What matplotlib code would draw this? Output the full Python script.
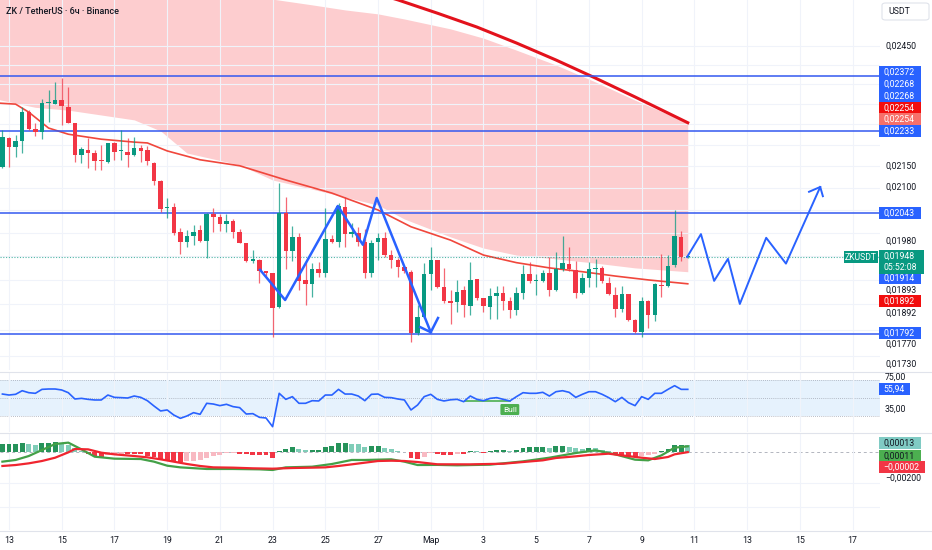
import numpy as np
import matplotlib
matplotlib.use("Agg")
import matplotlib.pyplot as plt
from matplotlib.patches import Rectangle, FancyBboxPatch
from matplotlib.lines import Line2D
from matplotlib.ticker import NullLocator

plt.rcParams['font.family'] = ['Roboto', 'DejaVu Sans']

W, H = 932, 550

# 6h candles, index 0 = 13 Feb 00:00 (first candle is 12 Feb 18:00)
opens = [0.02148, 0.02217, 0.02195, 0.02210, 0.02280, 0.02238, 0.02231, 0.02303, 0.02300, 0.02310,
         0.02292, 0.02254, 0.02176, 0.02188, 0.02181, 0.02165, 0.02160, 0.02205, 0.02186, 0.02183,
         0.02176, 0.02193, 0.02188, 0.02158, 0.02116, 0.02054, 0.02057, 0.02002, 0.01980, 0.01993,
         0.02006, 0.01982, 0.02041, 0.02034, 0.02019, 0.02026, 0.02002, 0.01978, 0.01940, 0.01942,
         0.01919, 0.01915, 0.01845, 0.02043, 0.01961, 0.01991, 0.01900, 0.01892, 0.01923, 0.01915,
         0.01986, 0.01980, 0.02057, 0.01997, 0.01999, 0.01980, 0.01915, 0.01980, 0.01989, 0.01952,
         0.01942, 0.01927, 0.01917, 0.01793, 0.01825, 0.01913, 0.01942, 0.01885, 0.01857, 0.01855,
         0.01879, 0.01847, 0.01902, 0.01863, 0.01845, 0.01867, 0.01873, 0.01857, 0.01839, 0.01873,
         0.01913, 0.01898, 0.01898, 0.01915, 0.01879, 0.01923, 0.01934, 0.01921, 0.01873, 0.01904,
         0.01923, 0.01925, 0.01894, 0.01869, 0.01841, 0.01871, 0.01819, 0.01795, 0.01857, 0.01829,
         0.01890, 0.01887, 0.01932, 0.01991, 0.01947]
highs = [0.02236, 0.02219, 0.02224, 0.02292, 0.02285, 0.02254, 0.02313, 0.02336, 0.02356, 0.02366,
         0.02343, 0.02254, 0.02195, 0.02217, 0.02188, 0.02200, 0.02205, 0.02207, 0.02236, 0.02217,
         0.02219, 0.02200, 0.02198, 0.02160, 0.02118, 0.02077, 0.02066, 0.02010, 0.02006, 0.02017,
         0.02017, 0.02043, 0.02054, 0.02041, 0.02041, 0.02030, 0.02008, 0.01978, 0.01963, 0.01944,
         0.01919, 0.01915, 0.02111, 0.02079, 0.02015, 0.01999, 0.01938, 0.01936, 0.01938, 0.02054,
         0.01995, 0.02066, 0.02079, 0.02021, 0.02013, 0.02008, 0.01984, 0.01999, 0.02002, 0.01963,
         0.01946, 0.01927, 0.01921, 0.01849, 0.01936, 0.01969, 0.01942, 0.01925, 0.01879, 0.01900,
         0.01887, 0.01938, 0.01902, 0.01863, 0.01883, 0.01887, 0.01887, 0.01865, 0.01885, 0.01932,
         0.01938, 0.01913, 0.01921, 0.01948, 0.01959, 0.01993, 0.01969, 0.01940, 0.01915, 0.01938,
         0.01944, 0.01929, 0.01906, 0.01885, 0.01887, 0.01871, 0.01821, 0.01865, 0.01859, 0.01894,
         0.01955, 0.01953, 0.02050, 0.02004, 0.01950]
lows = [0.02146, 0.02148, 0.02172, 0.02181, 0.02236, 0.02222, 0.02214, 0.02256, 0.02300, 0.02249,
        0.02254, 0.02160, 0.02158, 0.02146, 0.02141, 0.02141, 0.02158, 0.02165, 0.02165, 0.02148,
        0.02174, 0.02160, 0.02153, 0.02107, 0.02046, 0.02032, 0.01995, 0.01955, 0.01969, 0.01973,
        0.01980, 0.01946, 0.02002, 0.02004, 0.02002, 0.01989, 0.01978, 0.01938, 0.01936, 0.01894,
        0.01908, 0.01786, 0.01843, 0.01923, 0.01940, 0.01879, 0.01849, 0.01865, 0.01906, 0.01906,
        0.01978, 0.01969, 0.01969, 0.01991, 0.01971, 0.01904, 0.01906, 0.01942, 0.01948, 0.01925,
        0.01906, 0.01915, 0.01776, 0.01789, 0.01823, 0.01879, 0.01883, 0.01853, 0.01811, 0.01835,
        0.01825, 0.01829, 0.01859, 0.01835, 0.01821, 0.01821, 0.01839, 0.01823, 0.01829, 0.01861,
        0.01894, 0.01869, 0.01896, 0.01867, 0.01877, 0.01919, 0.01919, 0.01863, 0.01871, 0.01885,
        0.01885, 0.01894, 0.01869, 0.01825, 0.01835, 0.01817, 0.01793, 0.01786, 0.01803, 0.01817,
        0.01865, 0.01885, 0.01927, 0.01940, 0.01946]
closes = [0.02219, 0.02195, 0.02210, 0.02280, 0.02238, 0.02231, 0.02303, 0.02305, 0.02310, 0.02295,
          0.02254, 0.02176, 0.02190, 0.02181, 0.02163, 0.02163, 0.02205, 0.02183, 0.02188, 0.02176,
          0.02193, 0.02186, 0.02163, 0.02116, 0.02052, 0.02057, 0.02000, 0.01980, 0.01993, 0.02002,
          0.01982, 0.02041, 0.02034, 0.02019, 0.02026, 0.02002, 0.01978, 0.01940, 0.01944, 0.01919,
          0.01915, 0.01843, 0.02043, 0.01961, 0.01991, 0.01898, 0.01892, 0.01923, 0.01915, 0.01986,
          0.01980, 0.02059, 0.01997, 0.02002, 0.01980, 0.01915, 0.01978, 0.01989, 0.01952, 0.01942,
          0.01927, 0.01919, 0.01793, 0.01825, 0.01913, 0.01942, 0.01885, 0.01857, 0.01853, 0.01875,
          0.01849, 0.01900, 0.01863, 0.01847, 0.01867, 0.01873, 0.01857, 0.01839, 0.01873, 0.01913,
          0.01898, 0.01900, 0.01915, 0.01879, 0.01923, 0.01936, 0.01923, 0.01873, 0.01904, 0.01923,
          0.01925, 0.01898, 0.01871, 0.01841, 0.01871, 0.01819, 0.01795, 0.01857, 0.01829, 0.01892,
          0.01887, 0.01929, 0.01993, 0.01948, 0.01948]

# cloud band and moving averages, sampled at candle indices
band_idx = [-2, 4, 9, 14, 19, 23, 27, 35, 40, 46, 51, 56, 60, 67, 72, 77, 83, 89, 95, 103]
band_top = [0.02705, 0.02690, 0.02675, 0.02661, 0.02644, 0.02629, 0.02618, 0.02595, 0.02578, 0.02562,
            0.02548, 0.02537, 0.02523, 0.02496, 0.02471, 0.02439, 0.02400, 0.02356, 0.02310, 0.02254]
band_low = [0.02313, 0.02292, 0.02285, 0.02273, 0.02261, 0.02234, 0.02181, 0.02153, 0.02118, 0.02097,
            0.02079, 0.02061, 0.02030, 0.01991, 0.01967, 0.01952, 0.01944, 0.01935, 0.01925, 0.01917]

slow_idx = [44, 59, 65, 71, 77, 83, 89, 95, 103]
slow_ma = [0.02661, 0.02576, 0.02539, 0.02501, 0.02458, 0.02413, 0.02366, 0.02318, 0.02254]

fast_idx = [-2, 1, 3, 6, 9, 14, 19, 21, 24, 29, 35, 42, 49, 56, 61, 67, 72, 77, 82, 87, 92, 97, 103]
fast_ma = [0.02303, 0.02300, 0.02280, 0.02241, 0.02226, 0.02214, 0.02207, 0.02205, 0.02186, 0.02165,
           0.02151, 0.02118, 0.02088, 0.02050, 0.02013, 0.01984, 0.01952, 0.01936, 0.01925, 0.01917,
           0.01908, 0.01900, 0.01892]

levels = [0.02372, 0.02233, 0.02043, 0.01792]

# hand-drawn waves
wave1_idx = [38.1, 41.9, 49.9, 53.7, 55.8, 64.0]
wave1_px = [0.01921, 0.01859, 0.02059, 0.01974, 0.02077, 0.01795]
head1_idx = [62.4, 64.0, 65.1]
head1_px = [0.01805, 0.01795, 0.01823]
wave2_idx = [102.9, 105.0, 107.0, 109.1, 110.9, 114.9, 117.9, 123.1]
wave2_px = [0.01948, 0.01997, 0.01898, 0.01944, 0.01851, 0.01989, 0.01934, 0.02102]
head2_idx = [121.4, 123.1, 123.5]
head2_px = [0.02091, 0.02102, 0.02081]

rsi = [54.4, 53.3, 54.1, 58.1, 55.9, 55.2, 59.6, 60.0, 60.0, 58.9,
       55.9, 48.9, 49.6, 48.5, 47.8, 47.8, 53.3, 50.7, 50.4, 50.0,
       52.2, 50.7, 47.0, 41.1, 35.6, 36.7, 31.1, 27.4, 30.0, 33.7,
       31.9, 44.1, 43.3, 41.5, 43.0, 40.4, 39.3, 32.2, 32.6, 28.5,
       27.8, 18.1, 55.2, 48.5, 51.5, 44.1, 44.1, 47.0, 46.7, 53.3,
       53.3, 59.6, 54.4, 54.4, 52.2, 47.0, 54.1, 54.4, 50.7, 50.4,
       48.9, 47.8, 36.7, 42.2, 51.5, 54.1, 48.5, 46.7, 48.0, 48.5,
       45.9, 52.2, 48.5, 47.0, 49.6, 50.4, 48.5, 46.7, 51.5, 55.9,
       55.2, 55.2, 56.3, 52.2, 57.0, 58.1, 56.3, 50.7, 54.1, 57.0,
       57.0, 54.1, 50.4, 45.9, 50.7, 44.8, 41.5, 51.5, 48.5, 55.2,
       55.2, 59.6, 63.7, 59.6, 59.6]
bull_idx = [69.2, 76.0]
bull_rsi = [47.0, 47.0]

hist = [0.000133, 0.000133, 0.000133, 0.000156, 0.000133, 0.000111, 0.000145, 0.000156, 0.000161, 0.000156,
        0.000117, 0.000061, 0.000022, -0.000039, -0.000067, -0.000078, -0.000044, -0.000033, -0.000028, -0.000033,
        -0.000039, -0.000039, -0.000061, -0.000089, -0.000122, -0.000145, -0.000161, -0.000161, -0.000150, -0.000145,
        -0.000133, -0.000095, -0.000067, -0.000050, -0.000022, -0.000011, -0.000033, -0.000039, -0.000044, -0.000056,
        -0.000056, -0.000100, 0.000022, 0.000044, 0.000078, 0.000044, 0.000028, 0.000033, 0.000039, 0.000078,
        0.000106, 0.000145, 0.000145, 0.000133, 0.000128, 0.000089, 0.000095, 0.000095, 0.000072, 0.000044,
        0.000022, 0.000006, -0.000106, -0.000117, -0.000083, -0.000017, -0.000033, -0.000044, -0.000044, -0.000028,
        -0.000039, 0.000017, 0.000011, -0.000011, 0.000017, 0.000028, 0.000028, 0.000017, 0.000039, 0.000072,
        0.000078, 0.000083, 0.000089, 0.000072, 0.000095, 0.000100, 0.000083, 0.000061, 0.000056, 0.000067,
        0.000061, 0.000039, 0.000017, -0.000044, -0.000056, -0.000067, -0.000083, -0.000067, -0.000050, -0.000028,
        0.000011, 0.000056, 0.000111, 0.000122, 0.000117]

macd_idx = [-1, 1, 3, 5, 7, 9, 11, 13, 16, 20, 22, 24, 26, 30, 34, 38, 40, 42, 46, 49,
            52, 54, 58, 60, 62, 65, 68, 73, 78, 82, 86, 89, 92, 95, 97, 99, 101, 103]
macd_line = [-0.000161, -0.000133, -0.000067, 0.000033, 0.000133, 0.000156, 0.000044, -0.000078, -0.000111, -0.000117,
             -0.000161, -0.000228, -0.000256, -0.000283, -0.000283, -0.000289, -0.000300, -0.000256, -0.000245, -0.000200,
             -0.000133, -0.000133, -0.000122, -0.000161, -0.000217, -0.000215, -0.000222, -0.000211, -0.000156, -0.000095,
             -0.000017, 0.000028, -0.000039, -0.000128, -0.000139, -0.000056, 0.000072, 0.000095]
signal_idx = [-1, 1, 3, 5, 7, 9, 10, 12, 14, 16, 19, 21, 23, 25, 27, 29, 31, 34, 37, 40,
              43, 46, 48, 50, 52, 54, 56, 58, 60, 62, 65, 70, 75, 78, 81, 83, 86, 88, 91, 93,
              96, 98, 100, 101, 103]
signal_line = [-0.000233, -0.000217, -0.000189, -0.000150, -0.000095, -0.000006, 0.000050, 0.000044, -0.000011, -0.000039,
               -0.000067, -0.000089, -0.000122, -0.000161, -0.000200, -0.000233, -0.000256, -0.000261, -0.000272, -0.000278,
               -0.000267, -0.000261, -0.000256, -0.000233, -0.000206, -0.000178, -0.000150, -0.000145, -0.000150, -0.000167,
               -0.000205, -0.000206, -0.000195, -0.000167, -0.000139, -0.000100, -0.000072, -0.000050, -0.000028, -0.000056,
               -0.000095, -0.000117, -0.000083, -0.000039, -0.000002]

date_ticks = list(range(0, 129, 8))
date_labels = ['13', '15', '17', '19', '21', '23', '25', '27', 'Мар',
               '3', '5', '7', '9', '11', '13', '15', '17']

UP, DOWN = '#089981', '#f23645'
BLUE = '#2962ff'
GRID = '#f0f3fa'
TXT = '#131722'


def fx(x):
    return x / W


def fy(y):
    return 1 - y / H


def pane(top, bottom):
    return [0, fy(bottom), fx(880), (bottom - top) / H]


fig = plt.figure(figsize=(W / 100, H / 100), dpi=100)
ax = fig.add_axes(pane(0, 370))
ax_rsi = fig.add_axes(pane(372, 432), sharex=ax)
ax_macd = fig.add_axes(pane(433, 530), sharex=ax)

n = np.arange(-1, len(opens) - 1)
o = np.array(opens); c = np.array(closes)
hi = np.array(highs); lo = np.array(lows)

# --- main pane ---
ax.set_yscale('log')
ax.set_xlim(-1.366, 132.17)
ax.set_ylim(0.017228, 0.025756)
ax.fill_between(band_idx, band_low, band_top, color='#fdcdcf', lw=0, zorder=1)
ax.plot(slow_idx, slow_ma, color='#e3121c', lw=2.2, zorder=2)
ax.plot(fast_idx, fast_ma, color='#f0473c', lw=1.2, zorder=2)
for lv in levels:
    ax.axhline(lv, color='#3358f0', lw=1.1, zorder=2)
ax.axhline(closes[-1], color=UP, lw=0.8, ls=(0, (1, 1.5)), alpha=0.7, zorder=2)

up = c >= o
cols = np.where(up, UP, DOWN)
ax.vlines(n, lo, hi, colors=cols, lw=0.9, alpha=0.75, zorder=3)
body_lo = np.minimum(o, c)
body_h = np.maximum(np.abs(c - o), 0.000025)
ax.bar(n, body_h, bottom=body_lo, width=0.68, color=cols, lw=0, zorder=4)

ax.plot(wave1_idx, wave1_px, color=BLUE, lw=1.8, zorder=5)
ax.plot(head1_idx, head1_px, color=BLUE, lw=1.8, zorder=5)
ax.plot(wave2_idx, wave2_px, color=BLUE, lw=1.4, zorder=5)
ax.plot(head2_idx, head2_px, color=BLUE, lw=1.4, zorder=5)

ax.yaxis.set_minor_locator(NullLocator())
ax.set_yticks([0.0245, 0.024, 0.0235, 0.023, 0.0225, 0.022, 0.0215, 0.021, 0.0205,
               0.02, 0.0195, 0.019, 0.0185, 0.018, 0.0175])
ax.set_xticks(date_ticks)
ax.grid(True, color=GRID, lw=0.8, zorder=0)

# --- RSI pane ---
ax_rsi.set_ylim(12.2, 78.9)
ax_rsi.axhspan(30, 70, color='#e6f2fd', lw=0, zorder=0)
for lvl in (70, 50, 30):
    ax_rsi.axhline(lvl, color='#a3a9b5', lw=0.6, ls=(0, (1, 1.5)), zorder=1)
ax_rsi.plot(n, rsi, color=BLUE, lw=1.2, zorder=3)
ax_rsi.plot(bull_idx, bull_rsi, color='#4caf50', lw=1.2, zorder=2)
ax_rsi.text(bull_idx[1], 37.2, 'Bull', color='white', fontsize=6, ha='center', va='center',
            bbox=dict(boxstyle='round,pad=0.3,rounding_size=0.15', fc='#4caf50', ec='none'), zorder=4)
ax_rsi.set_yticks([])
ax_rsi.grid(True, axis='x', color=GRID, lw=0.8, zorder=0)

# --- MACD pane ---
px_per_unit = 60000.0
ax_macd.set_ylim(-(530 - 452) / px_per_unit, (452 - 433) / px_per_unit)
h = np.array(hist)
prev = np.concatenate([[h[0]], h[:-1]])
hcols = np.where(h >= 0,
                 np.where(h >= prev, '#26935a', '#80cdb8'),
                 np.where(h <= prev, '#f23645', '#f8b9c2'))
ax_macd.bar(n, h, width=0.75, color=hcols, lw=0, zorder=2)
ax_macd.axhline(0, color='#b2b5be', lw=0.7, ls=(0, (3, 3)), zorder=1)
ax_macd.plot(macd_idx, macd_line, color='#43a047', lw=1.6, zorder=3)
ax_macd.plot(signal_idx, signal_line, color='#f0252f', lw=1.6, zorder=3)
ax_macd.set_yticks([-(483 - 452) / px_per_unit, -(507 - 452) / px_per_unit])
ax_macd.grid(True, color=GRID, lw=0.8, zorder=0)

for a in (ax, ax_rsi, ax_macd):
    for s in a.spines.values():
        s.set_visible(False)
    a.tick_params(length=0, labelleft=False, labelbottom=False)
    a.set_facecolor('none')

ax_macd.set_xticks(date_ticks)
ax_macd.set_xticklabels(date_labels)
ax_macd.tick_params(labelbottom=True, labelsize=6.3, labelcolor=TXT, pad=4)

# pane separators
for yy in (371.5, 432.5, 530.5):
    fig.add_artist(Line2D([0, 1], [fy(yy), fy(yy)], color='#e0e3eb', lw=0.8))

# title
fig.text(fx(6), fy(11), 'ZK / TetherUS · 6ч · Binance', fontsize=6.5, color=TXT,
         va='center', ha='left', fontweight='medium')

# price-scale texts
plain = [(46, '0,02450'), (166, '0,02150'), (187, '0,02100'), (241, '0,01980'),
         (290, '0,01893'), (313, '0,01892'), (344, '0,01770'), (364, '0,01730'),
         (377, '75,00'), (409, '35,00'), (478, '−0,00200')]
for yy, s in plain:
    fig.text(fx(885), fy(yy), s, fontsize=6.3, color=TXT, va='center', ha='left')

badges = [(72, '0,02372', BLUE, 'white', 42), (84, '0,02268', BLUE, 'white', 42),
          (96, '0,02268', BLUE, 'white', 42), (108, '0,02254', '#f20d0d', 'white', 42),
          (119, '0,02254', '#f7706a', 'white', 42), (131, '0,02233', BLUE, 'white', 42),
          (213, '0,02043', BLUE, 'white', 42), (278, '0,01914', BLUE, 'white', 42),
          (301, '0,01892', '#f20d0d', 'white', 42), (333, '0,01792', BLUE, 'white', 42),
          (389, '55,94', BLUE, 'white', 31), (443, '0,00013', '#80cbc4', TXT, 42),
          (456, '0,00011', '#4caf50', TXT, 42), (467, '−0,00002', '#f23645', 'white', 46)]
for yy, s, fc, tc, w in badges:
    fig.add_artist(Rectangle((fx(879), fy(yy + 6)), w / W, 12 / H, transform=fig.transFigure,
                             fc=fc, ec='none'))
    fig.text(fx(883), fy(yy), s, fontsize=6.3, color=tc, va='center', ha='left')

# last price badge
fig.add_artist(Rectangle((fx(879), fy(274)), 45 / W, 24 / H, transform=fig.transFigure,
                         fc=UP, ec='none'))
fig.text(fx(883), fy(256.5), '0,01948', fontsize=6.3, color='white', va='center', ha='left')
fig.text(fx(883), fy(268), '05:52:08', fontsize=6.3, color='white', va='center', ha='left')
fig.add_artist(Rectangle((fx(844), fy(263)), 34 / W, 12 / H, transform=fig.transFigure,
                         fc=UP, ec='none'))
fig.text(fx(861), fy(257), 'ZKUSDT', fontsize=6.2, color='white', va='center', ha='center')

# currency box
fig.add_artist(FancyBboxPatch((fx(882), fy(20)), 47 / W, 17 / H, transform=fig.transFigure,
                              boxstyle='round,pad=0,rounding_size=0.004', fc='white', ec='#e0e3eb', lw=0.8))
fig.text(fx(888), fy(11.5), 'USDT', fontsize=6.3, color=TXT, va='center', ha='left')

fig.savefig('out.png', dpi=100)
